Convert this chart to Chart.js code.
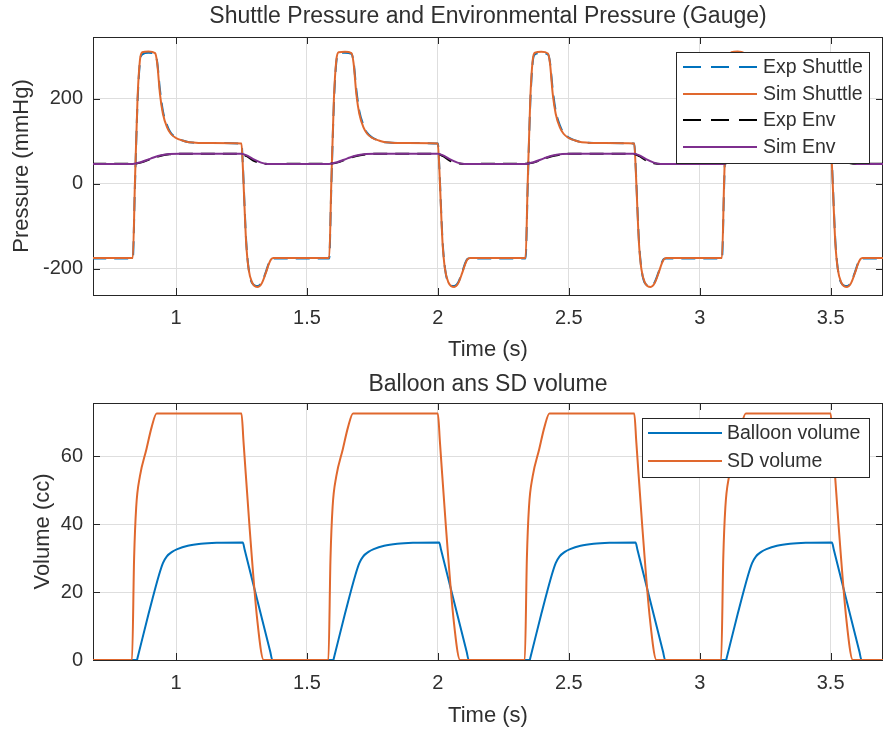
<!DOCTYPE html>
<html>
<head>
<meta charset="utf-8">
<script src="https://cdn.jsdelivr.net/npm/chart.js@4.4.1/dist/chart.umd.min.js"></script>
<style>
  html, body { margin: 0; padding: 0; background: #fff; }
  canvas { position: absolute; left: 0; }
  #top { top: 0; }
  #bottom { top: 367px; }
</style>
</head>
<body>
<canvas id="top" width="884" height="367"></canvas>
<canvas id="bottom" width="884" height="366"></canvas>
<script>
// ---- data ----
const xTicks = [1, 1.5, 2, 2.5, 3, 3.5];
const pressureTicks = [-200, 0, 200];
const volumeTicks = [0, 20, 40, 60];

const topLabels = ['Exp Shuttle', 'Sim Shuttle', 'Exp Env', 'Sim Env'];
const bottomLabels = ['Balloon volume', 'SD volume'];

// shuttle pressure (mmHg)
const shuttleT = [0.68,
  0.835, 0.843, 0.853, 0.862, 0.871, 0.895, 0.920, 0.928, 0.939, 0.950, 0.966, 0.980, 1.000, 1.025, 1.050, 1.135,
  1.250, 1.256, 1.262, 1.268, 1.277, 1.290, 1.313, 1.328, 1.343, 1.355, 1.363, 1.372,
  1.585, 1.593, 1.603, 1.612, 1.621, 1.645, 1.670, 1.678, 1.689, 1.700, 1.716, 1.730, 1.750, 1.775, 1.800, 1.885,
  2.000, 2.006, 2.012, 2.018, 2.027, 2.040, 2.063, 2.078, 2.093, 2.105, 2.113, 2.122,
  2.335, 2.343, 2.353, 2.362, 2.371, 2.395, 2.420, 2.428, 2.439, 2.450, 2.466, 2.480, 2.500, 2.525, 2.550, 2.635,
  2.750, 2.756, 2.762, 2.768, 2.777, 2.790, 2.813, 2.828, 2.843, 2.855, 2.863, 2.872,
  3.085, 3.093, 3.103, 3.112, 3.121, 3.145, 3.170, 3.178, 3.189, 3.200, 3.216, 3.230, 3.250, 3.275, 3.300, 3.385,
  3.500, 3.506, 3.512, 3.518, 3.527, 3.540, 3.563, 3.578, 3.593, 3.605, 3.613, 3.622,
  3.71];
const simShuttleP = [-175,
  -175, 0, 200, 290, 310, 312, 308, 285, 210, 165, 133, 118, 108, 102, 98, 96,
  95, 30, -60, -140, -200, -232, -243, -234, -210, -188, -178, -175,
  -175, 0, 200, 290, 310, 311, 308, 285, 210, 165, 133, 118, 108, 102, 98, 96,
  95, 30, -60, -140, -200, -232, -243, -234, -210, -188, -178, -175,
  -175, 0, 200, 290, 309, 311, 307, 285, 210, 165, 133, 118, 108, 102, 98, 96,
  95, 30, -60, -140, -200, -232, -243, -234, -210, -188, -178, -175,
  -175, 0, 200, 290, 310, 312, 308, 285, 210, 165, 133, 118, 108, 102, 98, 96,
  95, 30, -60, -140, -200, -232, -243, -234, -210, -188, -178, -175,
  -175];
const expShuttleP = [-176,
  -176, -10, 190, 285, 305, 309, 306, 288, 220, 172, 138, 120, 109, 102, 98, 96,
  95, 35, -55, -135, -198, -233, -241, -232, -208, -186, -177, -176,
  -176, -10, 190, 285, 305, 309, 306, 288, 220, 172, 138, 120, 109, 102, 98, 96,
  95, 35, -55, -135, -198, -233, -241, -232, -208, -186, -177, -176,
  -176, -10, 190, 285, 305, 308, 305, 288, 220, 172, 138, 120, 109, 102, 98, 96,
  95, 35, -55, -135, -198, -233, -241, -232, -208, -186, -177, -176,
  -176, -10, 190, 285, 305, 309, 306, 288, 220, 172, 138, 120, 109, 102, 98, 96,
  95, 35, -55, -135, -198, -233, -241, -232, -208, -186, -177, -176,
  -176];

// environmental pressure (mmHg)
const envT = [0.68,
  0.835, 0.865, 0.905, 0.935, 0.975, 1.015, 1.250, 1.270, 1.295, 1.325, 1.350,
  1.585, 1.615, 1.655, 1.685, 1.725, 1.765, 2.000, 2.020, 2.045, 2.075, 2.100,
  2.335, 2.365, 2.405, 2.435, 2.475, 2.515, 2.750, 2.770, 2.795, 2.825, 2.850,
  3.085, 3.115, 3.155, 3.185, 3.225, 3.265, 3.500, 3.520, 3.545, 3.575, 3.600,
  3.71];
const simEnvP = [47,
  47, 51, 60, 66, 70, 71, 71, 67, 58, 50, 47,
  47, 51, 60, 66, 70, 71, 71, 67, 58, 50, 47,
  47, 51, 60, 66, 70, 71, 71, 67, 58, 50, 47,
  47, 51, 60, 66, 70, 71, 71, 67, 58, 50, 47,
  47];
const expEnvP = [47.5,
  47.5, 50, 59, 65, 69.5, 71, 70.5, 65, 55, 48.5, 47,
  47.5, 50, 59, 65, 69.5, 71, 70.5, 65, 55, 48.5, 47,
  47.5, 50, 59, 65, 69.5, 71, 70.5, 65, 55, 48.5, 47,
  47.5, 50, 59, 65, 69.5, 71, 70.5, 65, 55, 48.5, 47,
  47.5];

// SD volume (cc)
const sdT = [0.68,
  0.832, 0.840, 0.848, 0.862, 0.887, 0.907, 0.926, 1.250, 1.258, 1.280, 1.310, 1.335,
  1.582, 1.590, 1.598, 1.612, 1.637, 1.657, 1.676, 2.000, 2.008, 2.030, 2.060, 2.085,
  2.332, 2.340, 2.348, 2.362, 2.387, 2.407, 2.426, 2.750, 2.758, 2.780, 2.810, 2.835,
  3.082, 3.090, 3.098, 3.112, 3.137, 3.157, 3.176, 3.500, 3.508, 3.530, 3.560, 3.585,
  3.71];
const sdV = [0,
  0, 30, 45, 54, 62, 68.5, 72.5, 72.5, 64, 40, 12, 0,
  0, 30, 45, 54, 62, 68.5, 72.5, 72.5, 64, 40, 12, 0,
  0, 30, 45, 54, 62, 68.5, 72.5, 72.5, 64, 40, 12, 0,
  0, 30, 45, 54, 62, 68.5, 72.5, 72.5, 64, 40, 12, 0,
  0];

// balloon volume (cc)
const balloonT = [0.68,
  0.851, 0.853, 0.895, 0.935, 0.950, 0.965, 0.985, 1.005, 1.045, 1.095, 1.155, 1.255, 1.262, 1.360, 1.368,
  1.601, 1.603, 1.645, 1.685, 1.700, 1.715, 1.735, 1.755, 1.795, 1.845, 1.905, 2.005, 2.012, 2.110, 2.118,
  2.351, 2.353, 2.395, 2.435, 2.450, 2.465, 2.485, 2.505, 2.545, 2.595, 2.655, 2.755, 2.762, 2.860, 2.868,
  3.101, 3.103, 3.145, 3.185, 3.200, 3.215, 3.235, 3.255, 3.295, 3.345, 3.405, 3.505, 3.512, 3.610, 3.618,
  3.71];
const balloonV = [0,
  0, 0.6, 13.5, 25, 28.5, 30.5, 31.8, 32.6, 33.6, 34.2, 34.5, 34.6, 32.5, 2.4, 0,
  0, 0.6, 13.5, 25, 28.5, 30.5, 31.8, 32.6, 33.6, 34.2, 34.5, 34.6, 32.5, 2.4, 0,
  0, 0.6, 13.5, 25, 28.5, 30.5, 31.8, 32.6, 33.6, 34.2, 34.5, 34.6, 32.5, 2.4, 0,
  0, 0.6, 13.5, 25, 28.5, 30.5, 31.8, 32.6, 33.6, 34.2, 34.5, 34.6, 32.5, 2.4, 0,
  0];

// ---- styling ----
const FONT = '"Liberation Sans", Arial, Helvetica, sans-serif';
const TEXT = '#303030';
const GRID = '#dedede';
const BLUE = '#0072BD', ORANGE = '#E0682E', PURPLE = '#7E2F8E', BLACK = '#000000';

const pts = (xs, ys) => xs.map((x, i) => ({x: x, y: ys[i]}));

function line(label, xs, ys, color, dashed, order) {
  return {
    label: label,
    data: pts(xs, ys),
    borderColor: color,
    backgroundColor: color,
    borderWidth: 2,
    borderDash: dashed ? [14, 8] : [],
    pointRadius: 0,
    cubicInterpolationMode: 'monotone',
    fill: false,
    order: order
  };
}

// MATLAB-like box, inward ticks, title and legend
const matlabAxes = {
  id: 'matlabAxes',
  beforeDatasetsDraw(chart) {
    const {ctx, chartArea: a, scales} = chart;
    ctx.save();
    ctx.strokeStyle = '#262626';
    ctx.lineWidth = 1;
    ctx.beginPath();
    scales.x.ticks.forEach(t => {
      const px = Math.round(scales.x.getPixelForValue(t.value)) + 0.5;
      ctx.moveTo(px, a.bottom); ctx.lineTo(px, a.bottom - 7);
      ctx.moveTo(px, a.top); ctx.lineTo(px, a.top + 7);
    });
    scales.y.ticks.forEach(t => {
      const py = Math.round(scales.y.getPixelForValue(t.value)) + 0.5;
      ctx.moveTo(a.left, py); ctx.lineTo(a.left + 7, py);
      ctx.moveTo(a.right, py); ctx.lineTo(a.right - 7, py);
    });
    ctx.stroke();
    ctx.strokeRect(Math.round(a.left) + 0.5, Math.round(a.top) + 0.5,
                   Math.round(a.right - a.left) - 1, Math.round(a.bottom - a.top));
    ctx.restore();
  },
  afterDraw(chart, args, opts) {
    const {ctx, chartArea: a} = chart;
    ctx.save();
    ctx.fillStyle = TEXT;
    ctx.font = '23px ' + FONT;
    ctx.textAlign = 'center';
    ctx.textBaseline = 'middle';
    ctx.fillText(opts.title, (a.left + a.right) / 2, opts.titleY);

    const lg = opts.legend;
    const bx = a.right - lg.right - lg.w, by = a.top + lg.top;
    ctx.fillStyle = '#ffffff';
    ctx.fillRect(bx, by, lg.w, lg.h);
    ctx.strokeStyle = '#262626';
    ctx.lineWidth = 1;
    ctx.strokeRect(Math.round(bx) + 0.5, Math.round(by) + 0.5, lg.w, lg.h);
    ctx.font = '19.5px ' + FONT;
    ctx.textAlign = 'left';
    const items = chart.data.datasets.slice().sort((p, q) => q.order - p.order);
    items.forEach((ds, i) => {
      const ry = by + lg.rows[i];
      ctx.strokeStyle = ds.borderColor;
      ctx.lineWidth = 2;
      ctx.setLineDash(ds.borderDash.length ? [18, 10] : []);
      ctx.beginPath();
      ctx.moveTo(bx + lg.x1, ry); ctx.lineTo(bx + lg.x2, ry);
      ctx.stroke();
      ctx.setLineDash([]);
      ctx.fillStyle = TEXT;
      ctx.fillText(ds.label, bx + lg.tx, ry + 1);
    });
    ctx.restore();
  }
};

function makeChart(id, datasets, yMin, yMax, yTicks, yLabel, yTitlePad, xAxisH, top, plugOpts) {
  return new Chart(document.getElementById(id), {
    type: 'line',
    data: {datasets: datasets},
    plugins: [matlabAxes],
    options: {
      responsive: false,
      animation: false,
      devicePixelRatio: 1,
      layout: {padding: {top: top, right: 1, left: 0, bottom: 0}},
      plugins: {
        legend: {display: false},
        tooltip: {enabled: false},
        matlabAxes: plugOpts
      },
      scales: {
        x: {
          type: 'linear',
          min: 0.683,
          max: 3.70,
          afterBuildTicks: s => { s.ticks = xTicks.map(v => ({value: v})); },
          afterFit: s => { s.height = xAxisH; },
          grid: {color: GRID, drawTicks: false},
          border: {display: false},
          ticks: {color: TEXT, font: {family: FONT, size: 20}, padding: 11, maxRotation: 0, autoSkip: false,
                  callback: v => String(v)},
          title: {display: true, text: 'Time (s)', color: TEXT, font: {family: FONT, size: 22}, padding: {bottom: 4}}
        },
        y: {
          type: 'linear',
          min: yMin,
          max: yMax,
          afterBuildTicks: s => { s.ticks = yTicks.map(v => ({value: v})); },
          afterFit: s => { s.width = 93; },
          grid: {color: GRID, drawTicks: false},
          border: {display: false},
          ticks: {color: TEXT, font: {family: FONT, size: 20}, padding: 10, callback: v => String(v)},
          title: {display: true, text: yLabel, color: TEXT, font: {family: FONT, size: 22}, padding: {top: yTitlePad}}
        }
      }
    }
  });
}

makeChart('top', [
  line(topLabels[0], shuttleT, expShuttleP, BLUE, true, 4),
  line(topLabels[1], shuttleT, simShuttleP, ORANGE, false, 3),
  line(topLabels[2], envT, expEnvP, BLACK, true, 2),
  line(topLabels[3], envT, simEnvP, PURPLE, false, 1)
], -262, 346, pressureTicks, 'Pressure (mmHg)', 9, 72, 37, {
  title: 'Shuttle Pressure and Environmental Pressure (Gauge)',
  titleY: 17,
  legend: {w: 193, h: 111, right: 14, top: 15, rows: [15, 42, 68, 95], x1: 7, x2: 81, tx: 87}
});

makeChart('bottom', [
  line(bottomLabels[0], balloonT, balloonV, BLUE, false, 2),
  line(bottomLabels[1], sdT, sdV, ORANGE, false, 1)
], 0, 75.6, volumeTicks, 'Volume (cc)', 30, 73, 36, {
  title: 'Balloon ans SD volume',
  titleY: 18,
  legend: {w: 227, h: 59, right: 14, top: 15, rows: [15, 43], x1: 6, x2: 80, tx: 85}
});
</script>
</body>
</html>
